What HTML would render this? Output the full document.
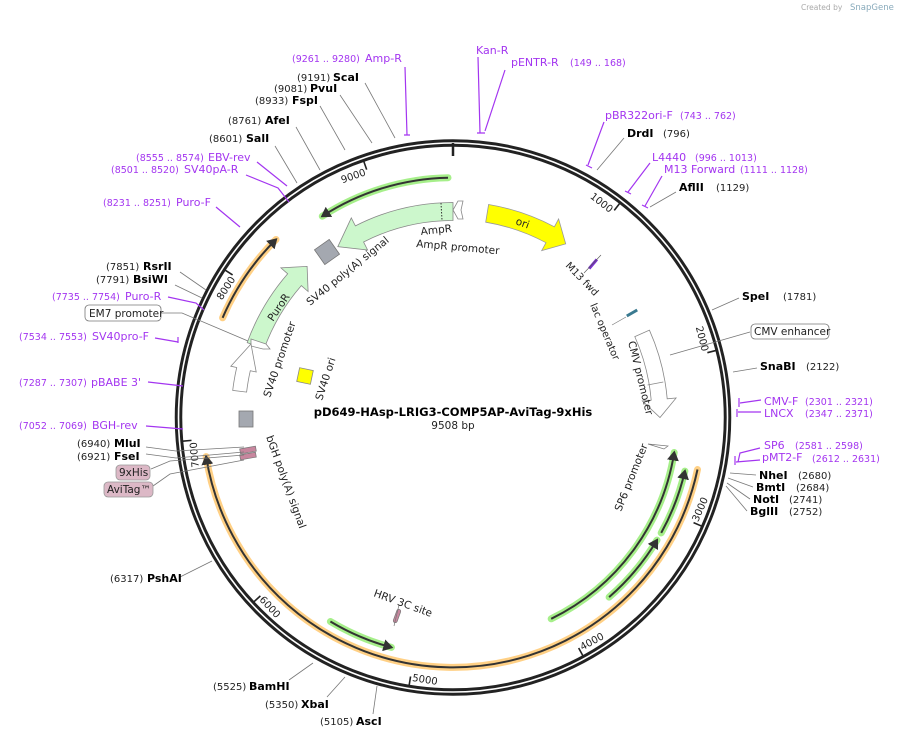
<!DOCTYPE html>
<html><head><meta charset="utf-8"><style>
body{margin:0;background:#fff}
svg{display:block;font-family:"DejaVu Sans","Liberation Sans",sans-serif}
.n{font-size:10px;fill:#222}
.b{font-size:11px;font-weight:bold;fill:#000}
.p{font-size:11px;fill:#a335f0}
.pn{font-size:9.5px;fill:#a335f0}
.f{font-size:10.5px;fill:#222}
.l{stroke:#777;stroke-width:0.8;fill:none}
.pl{stroke:#a335f0;stroke-width:1.2;fill:none}
</style></head><body>
<svg width="898" height="739" viewBox="0 0 898 739">
<defs>
<marker id="ah" markerWidth="6" markerHeight="6" refX="4" refY="3" orient="auto" markerUnits="strokeWidth"><path d="M0,0 L5,3 L0,6 Z" fill="#333"/></marker>
</defs>
<text x="801" y="10" font-size="7.5" fill="#aaa">Created by</text><text x="850" y="10" font-size="8.5" fill="#8ab">SnapGene</text>

<circle cx="453" cy="417.5" r="274.5" fill="none" stroke="#222" stroke-width="7.5"/>
<circle cx="453" cy="417.5" r="274.5" fill="none" stroke="#fff" stroke-width="1.6"/>
<line x1="453" y1="143" x2="453" y2="156" stroke="#222" stroke-width="2.5"/>
<g stroke="#222" stroke-width="1.6">
<line x1="453" y1="146" x2="453" y2="155" transform="rotate(37.9 453 417.5)"/>
<line x1="453" y1="146" x2="453" y2="155" transform="rotate(75.7 453 417.5)"/>
<line x1="453" y1="146" x2="453" y2="155" transform="rotate(113.6 453 417.5)"/>
<line x1="453" y1="146" x2="453" y2="155" transform="rotate(151.4 453 417.5)"/>
<line x1="453" y1="146" x2="453" y2="155" transform="rotate(189.3 453 417.5)"/>
<line x1="453" y1="146" x2="453" y2="155" transform="rotate(227.2 453 417.5)"/>
<line x1="453" y1="146" x2="453" y2="155" transform="rotate(265 453 417.5)"/>
<line x1="453" y1="146" x2="453" y2="155" transform="rotate(302.9 453 417.5)"/>
<line x1="453" y1="146" x2="453" y2="155" transform="rotate(340.8 453 417.5)"/>
</g>
<g font-size="10" fill="#222">
<text x="451" y="160" text-anchor="end" transform="rotate(37.9 453 417.5)">1000</text>
<text x="451" y="160" text-anchor="end" transform="rotate(75.7 453 417.5)">2000</text>
<text x="451" y="160" text-anchor="end" transform="rotate(302.9 453 417.5)">8000</text>
<text x="451" y="160" text-anchor="end" transform="rotate(340.8 453 417.5)">9000</text>
<text x="451" y="160" text-anchor="end" transform="rotate(265 453 417.5)">7000</text>
<text x="455" y="684" transform="rotate(-66.4 453 417.5)">3000</text>
<text x="455" y="684" transform="rotate(-28.6 453 417.5)">4000</text>
<text x="455" y="684" transform="rotate(9.3 453 417.5)">5000</text>
<text x="455" y="684" transform="rotate(47.2 453 417.5)">6000</text>
</g>

<g fill="none">
<path d="M222.6 317.8 A251 251 0 0 1 276 239.5" stroke="#ffc870" stroke-width="7" stroke-linecap="round" opacity=".85"/>
<path d="M222.6 317.8 A251 251 0 0 1 276 239.5" stroke="#333" stroke-width="2" marker-end="url(#ah)"/>
<path d="M697.5 469.5 A250 250 0 0 1 206.1 456.6" stroke="#ffc870" stroke-width="7" stroke-linecap="round" opacity=".85"/>
<path d="M697.5 469.5 A250 250 0 0 1 206.1 456.6" stroke="#333" stroke-width="2" marker-end="url(#ah)"/>
<path d="M448 177.7 A240 240 0 0 0 322.3 216.2" stroke="#a6ef8a" stroke-width="7" stroke-linecap="round"/>
<path d="M448 177.7 A240 240 0 0 0 322.3 216.2" stroke="#333" stroke-width="2" marker-end="url(#ah)"/>
<path d="M551.2 618.8 A224 224 0 0 0 674.2 452.5" stroke="#a6ef8a" stroke-width="7" stroke-linecap="round"/>
<path d="M551.2 618.8 A224 224 0 0 0 674.2 452.5" stroke="#333" stroke-width="2" marker-end="url(#ah)"/>
<path d="M609.1 597.1 A238 238 0 0 0 657 540.1" stroke="#a6ef8a" stroke-width="7" stroke-linecap="round"/>
<path d="M609.1 597.1 A238 238 0 0 0 657 540.1" stroke="#333" stroke-width="2" marker-end="url(#ah)"/>
<path d="M661.2 532.9 A238 238 0 0 0 684.9 471.1" stroke="#a6ef8a" stroke-width="7" stroke-linecap="round"/>
<path d="M661.2 532.9 A238 238 0 0 0 684.9 471.1" stroke="#333" stroke-width="2" marker-end="url(#ah)"/>
<path d="M330.4 621.5 A238 238 0 0 0 391.4 647.4" stroke="#a6ef8a" stroke-width="7" stroke-linecap="round"/>
<path d="M330.4 621.5 A238 238 0 0 0 391.4 647.4" stroke="#333" stroke-width="2" marker-end="url(#ah)"/>
</g>

<path d="M453 202.5 A215 215 0 0 0 355.4 225.9 L351.3 217.9 L337.8 246.7 L367.6 250 L363.6 242 A197 197 0 0 1 453 220.5 Z" fill="#ccf7cc" stroke="#888" stroke-width="0.8"/>
<line x1="441" y1="203" x2="442" y2="220" stroke="#333" stroke-dasharray="1.5,1.5"/>
<path d="M463 201 L458 201 L453 210 L458 219 L463 219 L461 210 Z" fill="#fff" stroke="#888" stroke-width="0.8"/>
<path d="M488.6 204.5 A216 216 0 0 1 554.4 226.8 L558.6 218.9 L565.7 243.9 L541.7 250.6 L546 242.7 A198 198 0 0 0 485.7 222.2 Z" fill="#ffff00" stroke="#999" stroke-width="0.8"/>
<text x="0" y="0" font-size="10.5" fill="#222" transform="translate(515 224) rotate(20)">ori</text>
<path d="M264.1 348.8 A201 201 0 0 1 301.3 285.6 L308.1 291.5 L307.1 266.4 L280.9 267.9 L287.7 273.8 A219 219 0 0 0 247.2 342.6 Z" fill="#ccf7cc" stroke="#888" stroke-width="0.8"/>
<text font-size="10.5" fill="#222" transform="translate(273 322) rotate(-56)">PuroR</text>
<path d="M251 339 L266 344 L270 349 L263 349 L251 346 Z" fill="#fff" stroke="#888" stroke-width="0.8"/>
<path d="M232.7 390.4 A222 222 0 0 1 236.7 367.5 L230.8 366.2 L251 344 L256.2 372 L250.3 370.7 A208 208 0 0 0 246.6 392.1 Z" fill="#fff" stroke="#888" stroke-width="0.8"/>
<path d="M634.8 336.6 A199 199 0 0 1 651.2 400.1 L642.3 400.9 L660 417.5 L676.1 398 L667.2 398.8 A215 215 0 0 0 649.4 330.1 Z" fill="#fff" stroke="#888" stroke-width="0.8"/>
<line x1="647.6" y1="385" x2="663.3" y2="382" stroke="#888" stroke-width="0.8"/>

<rect x="-9" y="-9" width="18" height="18" fill="#a4a8b0" stroke="#777" stroke-width="0.8" transform="translate(327 252) rotate(-35)"/>
<rect x="239" y="411" width="14" height="16" fill="#a4a8b0" stroke="#777" stroke-width="0.8"/>
<rect x="-7" y="-7" width="14" height="14" fill="#ffff00" stroke="#888" stroke-width="0.8" transform="translate(305 376) rotate(12)"/>
<g fill="#c8869e" stroke="#777" stroke-width="0.7">
<rect x="-8" y="-2.5" width="16" height="5" transform="translate(248 450) rotate(-10)"/>
<rect x="-8" y="-2.5" width="16" height="5" transform="translate(248 456) rotate(-10)"/>
<rect x="-2" y="-7" width="4" height="14" rx="2" transform="translate(397 616) rotate(20)"/>
</g>
<line x1="394" y1="626" x2="399" y2="605" stroke="#777" stroke-width="0.7"/>
<rect x="-6" y="-1.5" width="12" height="3" fill="#7a2fcf" transform="translate(593 264) rotate(-50)"/>
<line x1="584" y1="273" x2="601" y2="255" stroke="#555" stroke-width="0.6"/>
<rect x="-6" y="-1.5" width="12" height="3" fill="#3a7a90" transform="translate(632 313) rotate(-30)"/>
<line x1="612" y1="325" x2="626" y2="317" stroke="#777" stroke-width="0.6"/>
<path d="M648 444 L668 446 L664 449 Z" fill="#fff" stroke="#777" stroke-width="0.7"/>

<g class="f">
<text transform="translate(421 235) rotate(-6)">AmpR</text>
<text transform="translate(416 247) rotate(5)">AmpR promoter</text>
<text transform="translate(310 306) rotate(-39)">SV40 poly(A) signal</text>
<text transform="translate(270 398) rotate(-71)">SV40 promoter</text>
<text transform="translate(322 401) rotate(-72)">SV40 ori</text>
<text transform="translate(266 437) rotate(70)">bGH poly(A) signal</text>
<text transform="translate(565 266) rotate(46)" font-size="10">M13 fwd</text>
<text transform="translate(590 305) rotate(67)" font-size="10">lac operator</text>
<text transform="translate(628 342) rotate(76)">CMV promoter</text>
<text transform="translate(621 512) rotate(-68)">SP6 promoter</text>
<text transform="translate(373 596) rotate(20)">HRV 3C site</text>
</g>

<text x="453" y="416" text-anchor="middle" font-size="11.5" font-weight="bold" fill="#000">pD649-HAsp-LRIG3-COMP5AP-AviTag-9xHis</text>
<text x="453" y="429" text-anchor="middle" font-size="10.5" fill="#222">9508 bp</text>

<g class="l">
<path d="M365 83 L395 138"/><path d="M340 95 L372 143"/><path d="M320 106 L345 150"/>
<path d="M296 127 L320 170"/><path d="M275 146 L297 183"/>
<path d="M180 272 L206 290"/><path d="M175 285 L202 298"/>
<path d="M161 313 L182 313 L248 341"/>
<path d="M146 447 L176 451 L244 447"/><path d="M146 454 L176 458 L244 452"/>
<path d="M151 469 L170 461 L244 455"/><path d="M153 486 L170 474 L244 460"/>
<path d="M624 138 L597 170"/><path d="M676 192 L650 207"/>
<path d="M739 298 L712 310"/><path d="M750 332 L670 355"/><path d="M757 368 L733 372"/>
<path d="M756 475 L730 473"/><path d="M753 487 L728 478"/><path d="M750 499 L727 483"/><path d="M747 511 L726 486"/>
<path d="M180 577 L212 561"/><path d="M289 680 L313 663"/><path d="M327 697 L345 677"/><path d="M373 714 L377 686"/>
</g>
<g class="pl">
<path d="M405 67 L407 135 M404 135 L410 135"/>
<path d="M478 57 L480 133 M477 133 L485 133"/>
<path d="M505 70 L485 131"/>
<path d="M257 162 L287 186"/><path d="M246 175 L278 188 L289 202"/><path d="M216 207 L240 227"/>
<path d="M168 297 L196 303 L204 310"/><path d="M155 338 L178 342 M178 337 L178 343"/>
<path d="M148 382 L183 386"/><path d="M146 426 L183 429"/>
<path d="M604 122 L588 165 M586 165 L592 168"/><path d="M650 163 L628 192 M625 191 L631 194"/><path d="M662 176 L645 206 M642 205 L648 208"/>
<path d="M761 400 L740 403 M739 398 L739 407"/><path d="M761 412 L738 412 M737 409 L737 417"/>
<path d="M760 448 L740 453 L738 462"/><path d="M760 460 L736 462 M735 456 L735 465"/>
</g>

<text x="292" y="62" class="pn">(9261 .. 9280)</text><text x="365" y="62" class="p">Amp-R</text>
<text x="476" y="54" class="p">Kan-R</text>
<text x="511" y="66" class="p">pENTR-R</text><text x="570" y="66" class="pn">(149 .. 168)</text>
<text x="297" y="81" class="n">(9191)</text><text x="333" y="81" class="b">ScaI</text>
<text x="274" y="92" class="n">(9081)</text><text x="310" y="92" class="b">PvuI</text>
<text x="255" y="104" class="n">(8933)</text><text x="292" y="104" class="b">FspI</text>
<text x="228" y="124" class="n">(8761)</text><text x="265" y="124" class="b">AfeI</text>
<text x="209" y="142" class="n">(8601)</text><text x="246" y="142" class="b">SalI</text>
<text x="136" y="161" class="pn">(8555 .. 8574)</text><text x="208" y="161" class="p">EBV-rev</text>
<text x="111" y="173" class="pn">(8501 .. 8520)</text><text x="184" y="173" class="p">SV40pA-R</text>
<text x="103" y="206" class="pn">(8231 .. 8251)</text><text x="176" y="206" class="p">Puro-F</text>
<text x="106" y="270" class="n">(7851)</text><text x="143" y="270" class="b">RsrII</text>
<text x="96" y="283" class="n">(7791)</text><text x="133" y="283" class="b">BsiWI</text>
<text x="52" y="300" class="pn">(7735 .. 7754)</text><text x="125" y="300" class="p">Puro-R</text>
<rect x="85" y="305" width="76" height="16" rx="4" fill="#fff" stroke="#777" stroke-width="0.8"/><text x="89" y="317" class="f">EM7 promoter</text>
<text x="19" y="340" class="pn">(7534 .. 7553)</text><text x="92" y="340" class="p">SV40pro-F</text>
<text x="19" y="386" class="pn">(7287 .. 7307)</text><text x="91" y="386" class="p">pBABE 3'</text>
<text x="19" y="429" class="pn">(7052 .. 7069)</text><text x="92" y="429" class="p">BGH-rev</text>
<text x="77" y="447" class="n">(6940)</text><text x="114" y="447" class="b">MluI</text>
<text x="77" y="460" class="n">(6921)</text><text x="114" y="460" class="b">FseI</text>
<rect x="116" y="465" width="34" height="15" rx="4" fill="#dcb8c6" stroke="#999" stroke-width="0.8"/><text x="119" y="476" class="f">9xHis</text>
<rect x="104" y="482" width="49" height="15" rx="4" fill="#dcb8c6" stroke="#999" stroke-width="0.8"/><text x="107" y="493" class="f">AviTag™</text>
<text x="605" y="119" class="p">pBR322ori-F</text><text x="680" y="119" class="pn">(743 .. 762)</text>
<text x="627" y="137" class="b">DrdI</text><text x="663" y="137" class="n">(796)</text>
<text x="652" y="161" class="p">L4440</text><text x="695" y="161" class="pn">(996 .. 1013)</text>
<text x="664" y="173" class="p">M13 Forward</text><text x="740" y="173" class="pn">(1111 .. 1128)</text>
<text x="679" y="191" class="b">AflII</text><text x="716" y="191" class="n">(1129)</text>
<text x="742" y="300" class="b">SpeI</text><text x="783" y="300" class="n">(1781)</text>
<rect x="751" y="324" width="78" height="15" rx="4" fill="#fff" stroke="#777" stroke-width="0.8"/><text x="754" y="335" class="f">CMV enhancer</text>
<text x="760" y="370" class="b">SnaBI</text><text x="806" y="370" class="n">(2122)</text>
<text x="764" y="405" class="p">CMV-F</text><text x="805" y="405" class="pn">(2301 .. 2321)</text>
<text x="764" y="417" class="p">LNCX</text><text x="805" y="417" class="pn">(2347 .. 2371)</text>
<text x="764" y="449" class="p">SP6</text><text x="795" y="449" class="pn">(2581 .. 2598)</text>
<text x="762" y="461" class="p">pMT2-F</text><text x="812" y="462" class="pn">(2612 .. 2631)</text>
<text x="759" y="479" class="b">NheI</text><text x="798" y="479" class="n">(2680)</text>
<text x="756" y="491" class="b">BmtI</text><text x="796" y="491" class="n">(2684)</text>
<text x="753" y="503" class="b">NotI</text><text x="789" y="503" class="n">(2741)</text>
<text x="750" y="515" class="b">BglII</text><text x="789" y="515" class="n">(2752)</text>
<text x="110" y="582" class="n">(6317)</text><text x="147" y="582" class="b">PshAI</text>
<text x="213" y="690" class="n">(5525)</text><text x="249" y="690" class="b">BamHI</text>
<text x="265" y="708" class="n">(5350)</text><text x="301" y="708" class="b">XbaI</text>
<text x="320" y="725" class="n">(5105)</text><text x="356" y="725" class="b">AscI</text>
</svg>
</body></html>
